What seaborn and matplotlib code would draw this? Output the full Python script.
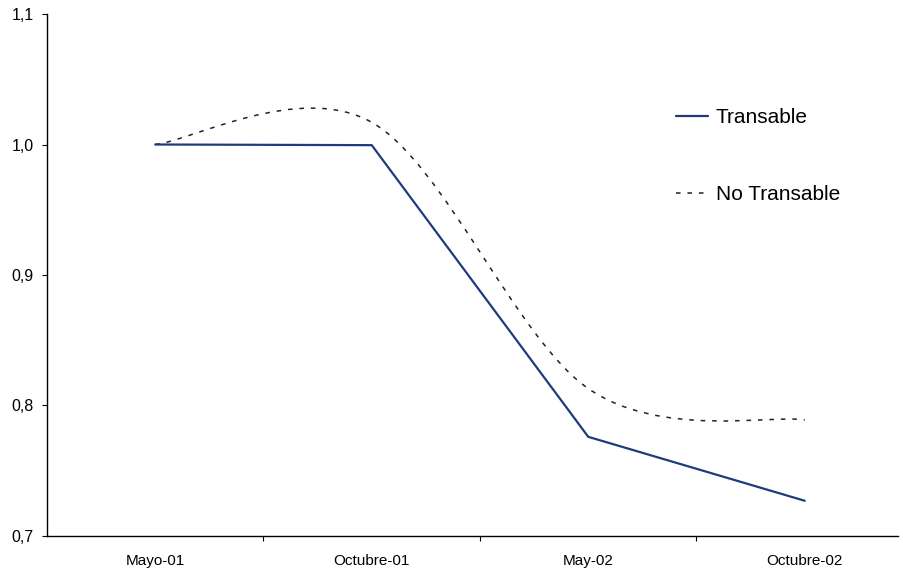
import numpy as np
import pandas as pd
import matplotlib
matplotlib.use("Agg")
import matplotlib.pyplot as plt
import seaborn as sns
from matplotlib.path import Path
from matplotlib.patches import PathPatch
from matplotlib.lines import Line2D
from matplotlib.ticker import FuncFormatter

periodos = ["Mayo-01", "Octubre-01", "May-02", "Octubre-02"]
transable = [1.000, 0.9995, 0.776, 0.727]
no_transable = [1.000, 1.017, 0.813, 0.789]
series = ["Transable", "No Transable"]

navy = "#1f3b7d"
dark = "#222222"
dash = (0, (3, 4.5))

sns.set_theme(style="white")
plt.rcParams["font.family"] = ["Liberation Sans", "DejaVu Sans"]
plt.rcParams["text.color"] = "black"

fig = plt.figure(figsize=(9.04, 5.72), dpi=100)
ax = fig.add_axes([47 / 904, 36 / 572, 866 / 904, 522 / 572])

df = pd.DataFrame({"x": np.arange(len(periodos)), "Transable": transable})
sns.lineplot(data=df, x="x", y="Transable", ax=ax, color=navy, linewidth=1.6)

# excel-style smoothed line (bezier through the points)
pts = np.column_stack([np.arange(len(periodos)), no_transable]).astype(float)
verts = [pts[0]]
codes = [Path.MOVETO]
n = len(pts)
for i in range(n - 1):
    p_prev = pts[max(i - 1, 0)]
    p0 = pts[i]
    p1 = pts[i + 1]
    p_next = pts[min(i + 2, n - 1)]
    verts += [p0 + (p1 - p_prev) / 6, p1 - (p_next - p0) / 6, p1]
    codes += [Path.CURVE4] * 3
ax.add_patch(PathPatch(Path(verts, codes), fill=False, edgecolor=dark,
                       linewidth=1.1, linestyle=dash))

ax.set_xlim(-0.5, 3.5)
ax.set_ylim(0.7, 1.1)
ax.set_yticks([0.7, 0.8, 0.9, 1.0, 1.1])
ax.yaxis.set_major_formatter(FuncFormatter(lambda v, p: f"{v:.1f}".replace(".", ",")))
ax.set_xticks(range(len(periodos)))
ax.set_xticklabels(periodos)
ax.set_xticks([0.5, 1.5, 2.5], minor=True)
ax.set_xlabel("")
ax.set_ylabel("")

ax.tick_params(axis="y", left=True, direction="out", length=3.6, width=0.8,
               color="black", labelsize=11.5, labelcolor="black", pad=6)
ax.tick_params(axis="x", which="major", bottom=True, length=0, labelsize=11,
               labelcolor="black", pad=13)
ax.tick_params(axis="x", which="minor", bottom=True, direction="out",
               length=3.6, width=0.8, color="black")

for s in ["top", "right"]:
    ax.spines[s].set_visible(False)
for s in ["left", "bottom"]:
    ax.spines[s].set_color("black")
    ax.spines[s].set_linewidth(1.0)
ax.spines["bottom"].set_bounds(-0.5, 3.43)

handles = [Line2D([], [], color=navy, linewidth=1.6),
           Line2D([], [], color=dark, linewidth=1.1, linestyle=dash)]
leg = fig.legend(handles, series, loc="upper left",
                 bbox_to_anchor=(676 / 904, 1 - 108 / 572),
                 frameon=False, fontsize=15, handlelength=1.54, handletextpad=0.38,
                 labelspacing=2.8, borderpad=0, borderaxespad=0)
for t in leg.get_texts():
    t.set_color("black")

fig.savefig("out.png", dpi=100)
